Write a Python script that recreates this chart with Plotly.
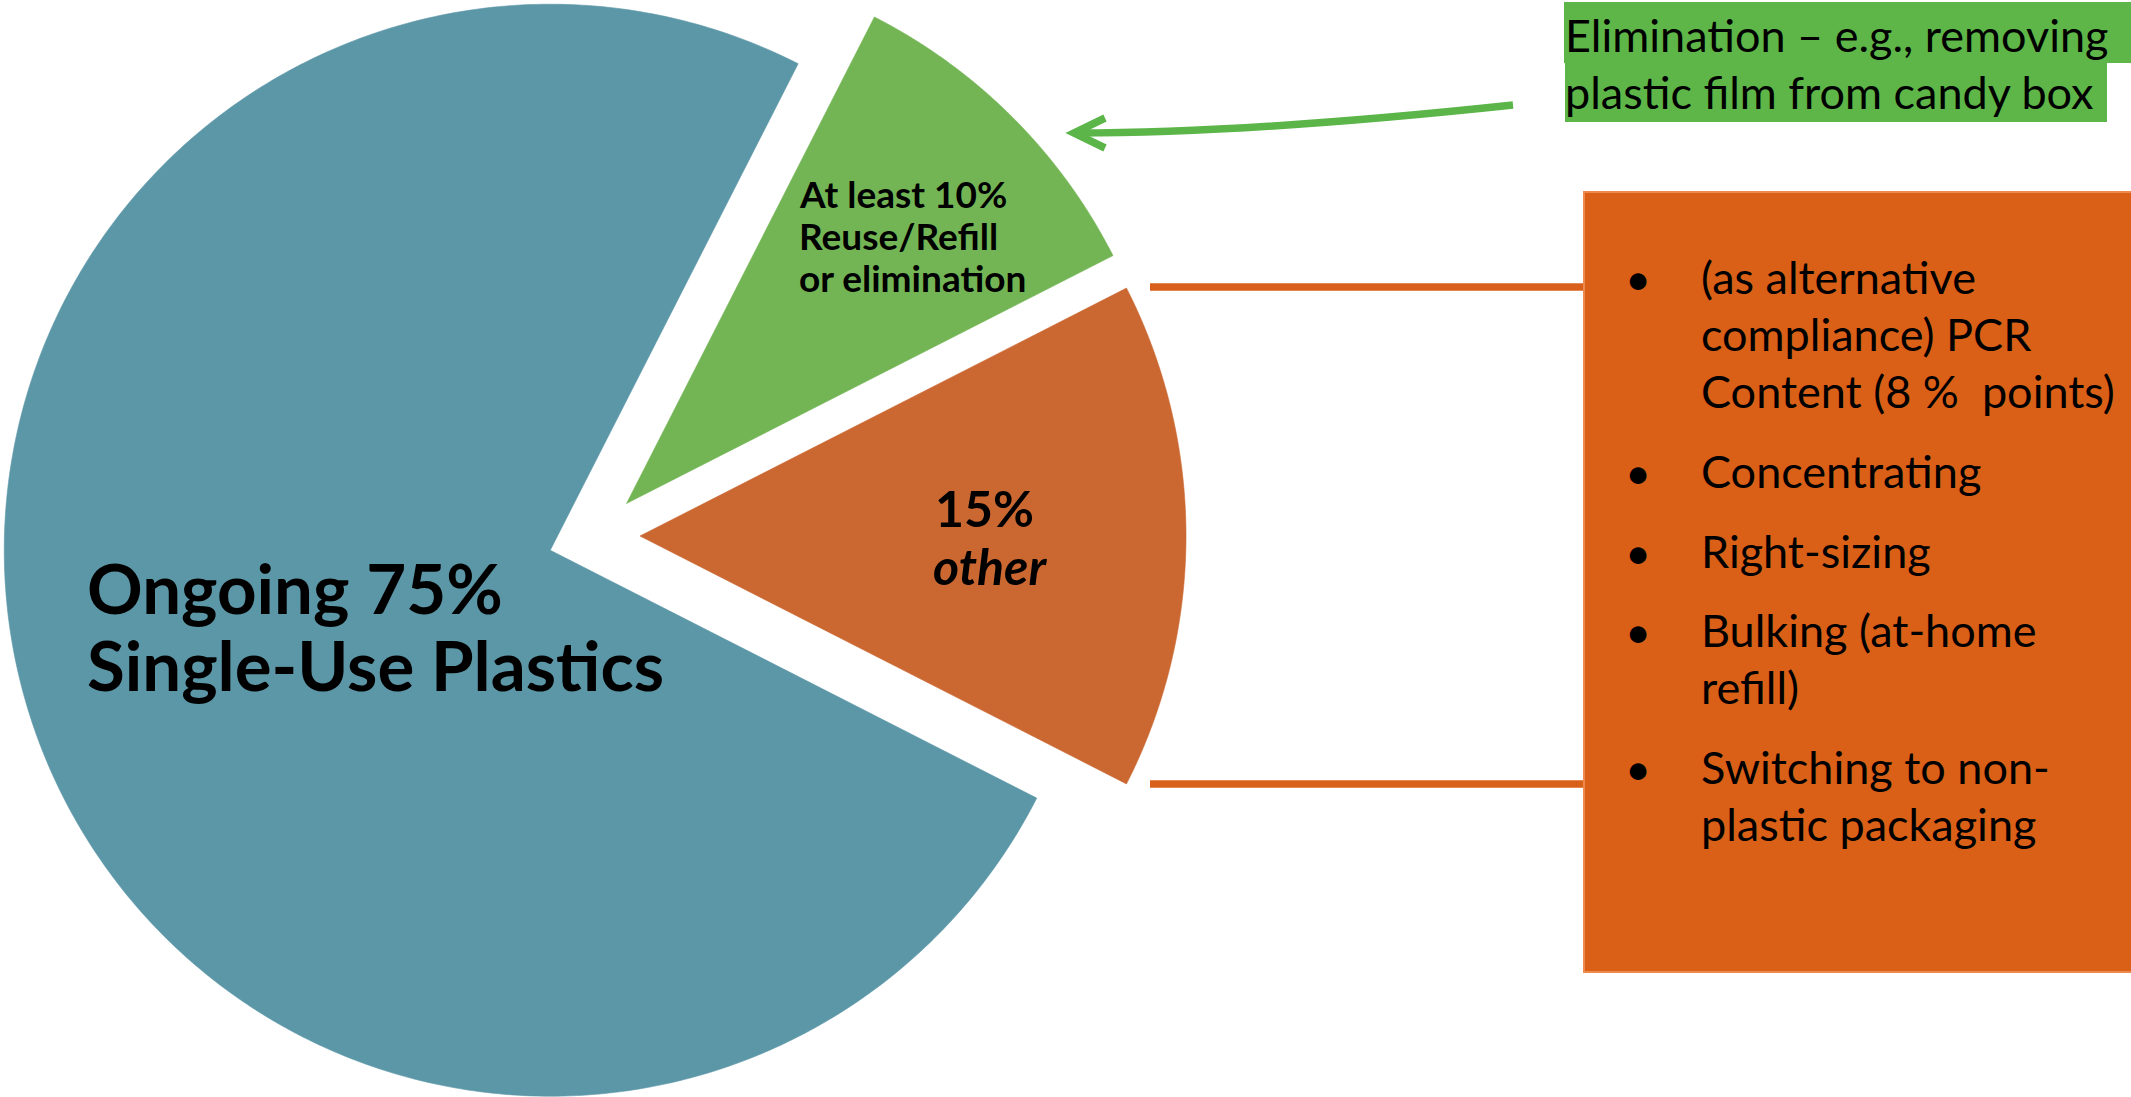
import numpy as np
import plotly.graph_objects as go

# ---------------- data ----------------
categories = ["Reuse/Refill or elimination", "Other", "Single-Use Plastics"]
values = [10, 15, 75]
slice_colors = ["#73B555", "#CB6832", "#5C97A8"]

blue_label = ["Ongoing 75%", "Single-Use Plastics"]
green_label = ["At least 10%", "Reuse/Refill", "or elimination"]
orange_label = ["15%", "other"]

callout_lines = ["Elimination \u2013 e.g., removing", "plastic film from candy box"]

bullets = [
    ["(as alternative", "compliance) PCR", "Content (8\u00a0%\u00a0\u00a0points)"],
    ["Concentrating"],
    ["Right-sizing"],
    ["Bulking (at-home", "refill)"],
    ["Switching to non-", "plastic packaging"],
]

# ---------------- layout constants ----------------
W, H = 2131, 1097
CX, CY = 594, 536       # pie centre (px)
R = 546                 # pie radius (px)
PULL = 46               # explode distance (px)
START = 27              # start angle, degrees clockwise from 12 o'clock

FONT = "Lato"
ORANGE_BOX = "#DA5F17"
ORANGE_LINE = "#D9601A"
GREEN_BG = "#5DB647"
ARROW_GREEN = "#5BB548"

fig = go.Figure()

total = float(sum(values))
cum = 0.0
for cat, v, col in zip(categories, values, slice_colors):
    a0 = START + cum / total * 360.0
    a1 = a0 + v / total * 360.0
    cum += v
    mid = np.radians((a0 + a1) / 2.0)
    ox = CX + PULL * np.sin(mid)
    oy = CY - PULL * np.cos(mid)
    th = np.radians(np.linspace(a0, a1, 400))
    xs = np.concatenate([[ox], ox + R * np.sin(th), [ox]])
    ys = np.concatenate([[oy], oy - R * np.cos(th), [oy]])
    fig.add_trace(go.Scatter(
        x=xs, y=ys, mode="lines", fill="toself", fillcolor=col,
        line=dict(width=0.6, color=col, simplify=False),
        name=f"{cat} ({v}%)", hoverinfo="name", showlegend=False,
    ))

annotations = []


def add_text(x, y, text, size, xanchor="left", color="#000000"):
    annotations.append(dict(
        x=x, y=y, xref="x", yref="y", text=text, showarrow=False,
        xanchor=xanchor, yanchor="middle", align="left", borderpad=0,
        font=dict(family=FONT, size=size, color=color),
    ))


def mid_from_baseline(baseline, size):
    return baseline - 0.36 * size


# slice labels
for line, base in zip(blue_label, [612, 689]):
    add_text(86, mid_from_baseline(base, 69), f"<b>{line}</b>", 69)
for line, base in zip(green_label, [207, 249, 291]):
    add_text(798, mid_from_baseline(base, 37), f"<b>{line}</b>", 37)
add_text(934, mid_from_baseline(526, 50), f"<b>{orange_label[0]}</b>", 50)
add_text(932, mid_from_baseline(584, 50), f"<b><i>{orange_label[1]}</i></b>", 50)

# callout (green highlighted text)
shapes = [
    dict(type="rect", xref="x", yref="y", x0=1564, x1=W + 5, y0=2, y1=63,
         fillcolor=GREEN_BG, line=dict(width=0), layer="above"),
    dict(type="rect", xref="x", yref="y", x0=1565, x1=2107, y0=63, y1=122,
         fillcolor=GREEN_BG, line=dict(width=0), layer="above"),
]
for line, base in zip(callout_lines, [51, 108]):
    add_text(1564, mid_from_baseline(base, 45), line, 45)

# arrow from callout to green slice
shapes.append(dict(type="path", xref="x", yref="y",
                   path="M 1513,105 Q 1250,133 1076,133",
                   line=dict(color=ARROW_GREEN, width=7.5), layer="above"))
shapes.append(dict(type="path", xref="x", yref="y",
                   path="M 1105,118 L 1074,133 L 1105,148",
                   line=dict(color=ARROW_GREEN, width=7.5), layer="above"))

# connector lines + orange box
for yy in [287, 784]:
    shapes.append(dict(type="line", xref="x", yref="y", x0=1150, x1=1586,
                       y0=yy, y1=yy, line=dict(color=ORANGE_LINE, width=7.3),
                       layer="above"))
shapes.append(dict(type="rect", xref="x", yref="y", x0=1584, x1=W + 10,
                   y0=192, y1=972, fillcolor=ORANGE_BOX,
                   line=dict(color="#EE8A4E", width=2), layer="above"))

# bullet text
BSIZE = 45
base = 293.6
LINE_STEP = 57
PARA_GAP = 22.6
line_idx = 0
for p, item in enumerate(bullets):
    for k, line in enumerate(item):
        b = base + LINE_STEP * line_idx + PARA_GAP * p
        if k == 0:
            add_text(1638, mid_from_baseline(b, BSIZE) + 1, "\u2022", BSIZE,
                     xanchor="center")
        add_text(1700, mid_from_baseline(b, BSIZE), line, BSIZE)
        line_idx += 1

fig.update_layout(
    width=W, height=H, autosize=False,
    margin=dict(l=0, r=0, t=0, b=0, pad=0),
    paper_bgcolor="white", plot_bgcolor="white",
    xaxis=dict(range=[0, W], visible=False, fixedrange=True),
    yaxis=dict(range=[H, 0], visible=False, fixedrange=True),
    shapes=shapes, annotations=annotations,
    showlegend=False, hovermode="closest",
)

fig.write_html("out.html", config={"displayModeBar": False},
               post_script="document.body.style.margin='0';document.body.style.overflow='hidden';")
